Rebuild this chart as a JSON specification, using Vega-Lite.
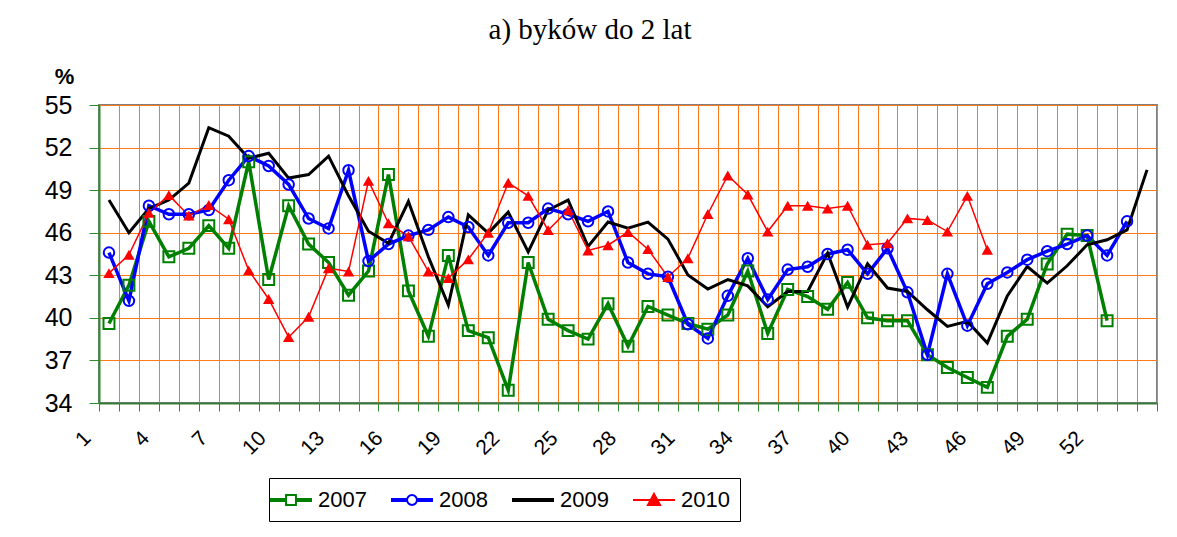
{
  "$schema": "https://vega.github.io/schema/vega-lite/v6.json",
  "width": 1058,
  "height": 298,
  "autosize": "none",
  "padding": {"left": 99, "top": 105, "right": 20, "bottom": 134},
  "background": "white",
  "title": {
    "text": "a) byków do 2 lat",
    "font": "Liberation Serif",
    "fontSize": 29,
    "fontWeight": "normal",
    "color": "black",
    "anchor": "middle",
    "dx": -38,
    "offset": 20
  },
  "config": {
    "view": {"stroke": "#808080", "strokeWidth": 2},
    "axis": {"labelFont": "Liberation Sans", "labelColor": "black", "titleFont": "Liberation Sans", "titleColor": "black"}
  },
  "resolve": {"axis": {"x": "independent"}},
  "data": {
    "values": [
      {"w":1,"year":"2007","v":39.6},{"w":2,"year":"2007","v":42.3},{"w":3,"year":"2007","v":46.8},{"w":4,"year":"2007","v":44.3},{"w":5,"year":"2007","v":44.9},{"w":6,"year":"2007","v":46.5},{"w":7,"year":"2007","v":44.9},{"w":8,"year":"2007","v":51.0},{"w":9,"year":"2007","v":42.7},{"w":10,"year":"2007","v":47.9},
      {"w":11,"year":"2007","v":45.2},{"w":12,"year":"2007","v":43.9},{"w":13,"year":"2007","v":41.6},{"w":14,"year":"2007","v":43.3},{"w":15,"year":"2007","v":50.1},{"w":16,"year":"2007","v":41.9},{"w":17,"year":"2007","v":38.7},{"w":18,"year":"2007","v":44.4},{"w":19,"year":"2007","v":39.1},{"w":20,"year":"2007","v":38.6},
      {"w":21,"year":"2007","v":34.9},{"w":22,"year":"2007","v":43.9},{"w":23,"year":"2007","v":39.9},{"w":24,"year":"2007","v":39.1},{"w":25,"year":"2007","v":38.5},{"w":26,"year":"2007","v":41.0},{"w":27,"year":"2007","v":38.0},{"w":28,"year":"2007","v":40.8},{"w":29,"year":"2007","v":40.2},{"w":30,"year":"2007","v":39.6},
      {"w":31,"year":"2007","v":39.2},{"w":32,"year":"2007","v":40.2},{"w":33,"year":"2007","v":43.3},{"w":34,"year":"2007","v":38.9},{"w":35,"year":"2007","v":42.0},{"w":36,"year":"2007","v":41.5},{"w":37,"year":"2007","v":40.6},{"w":38,"year":"2007","v":42.5},{"w":39,"year":"2007","v":40.0},{"w":40,"year":"2007","v":39.8},
      {"w":41,"year":"2007","v":39.8},{"w":42,"year":"2007","v":37.4},{"w":43,"year":"2007","v":36.5},{"w":44,"year":"2007","v":35.8},{"w":45,"year":"2007","v":35.1},{"w":46,"year":"2007","v":38.7},{"w":47,"year":"2007","v":39.9},{"w":48,"year":"2007","v":43.8},{"w":49,"year":"2007","v":45.9},{"w":50,"year":"2007","v":45.8},{"w":51,"year":"2007","v":39.8},
      {"w":1,"year":"2008","v":44.6},{"w":2,"year":"2008","v":41.2},{"w":3,"year":"2008","v":47.9},{"w":4,"year":"2008","v":47.3},{"w":5,"year":"2008","v":47.3},{"w":6,"year":"2008","v":47.6},{"w":7,"year":"2008","v":49.7},{"w":8,"year":"2008","v":51.4},{"w":9,"year":"2008","v":50.7},{"w":10,"year":"2008","v":49.4},
      {"w":11,"year":"2008","v":47.0},{"w":12,"year":"2008","v":46.3},{"w":13,"year":"2008","v":50.4},{"w":14,"year":"2008","v":44.0},{"w":15,"year":"2008","v":45.2},{"w":16,"year":"2008","v":45.8},{"w":17,"year":"2008","v":46.2},{"w":18,"year":"2008","v":47.1},{"w":19,"year":"2008","v":46.4},{"w":20,"year":"2008","v":44.4},
      {"w":21,"year":"2008","v":46.7},{"w":22,"year":"2008","v":46.7},{"w":23,"year":"2008","v":47.7},{"w":24,"year":"2008","v":47.3},{"w":25,"year":"2008","v":46.8},{"w":26,"year":"2008","v":47.5},{"w":27,"year":"2008","v":43.9},{"w":28,"year":"2008","v":43.1},{"w":29,"year":"2008","v":42.9},{"w":30,"year":"2008","v":39.55},
      {"w":31,"year":"2008","v":38.55},{"w":32,"year":"2008","v":41.55},{"w":33,"year":"2008","v":44.2},{"w":34,"year":"2008","v":41.3},{"w":35,"year":"2008","v":43.4},{"w":36,"year":"2008","v":43.6},{"w":37,"year":"2008","v":44.5},{"w":38,"year":"2008","v":44.8},{"w":39,"year":"2008","v":43.1},{"w":40,"year":"2008","v":44.9},
      {"w":41,"year":"2008","v":41.8},{"w":42,"year":"2008","v":37.4},{"w":43,"year":"2008","v":43.1},{"w":44,"year":"2008","v":39.45},{"w":45,"year":"2008","v":42.4},{"w":46,"year":"2008","v":43.2},{"w":47,"year":"2008","v":44.1},{"w":48,"year":"2008","v":44.7},{"w":49,"year":"2008","v":45.2},{"w":50,"year":"2008","v":45.8},{"w":51,"year":"2008","v":44.4},{"w":52,"year":"2008","v":46.8},
      {"w":1,"year":"2009","v":48.3},{"w":2,"year":"2009","v":46.0},{"w":3,"year":"2009","v":47.7},{"w":4,"year":"2009","v":48.3},{"w":5,"year":"2009","v":49.5},{"w":6,"year":"2009","v":53.4},{"w":7,"year":"2009","v":52.8},{"w":8,"year":"2009","v":51.25},{"w":9,"year":"2009","v":51.6},{"w":10,"year":"2009","v":49.85},
      {"w":11,"year":"2009","v":50.1},{"w":12,"year":"2009","v":51.4},{"w":13,"year":"2009","v":48.6},{"w":14,"year":"2009","v":46.1},{"w":15,"year":"2009","v":45.25},{"w":16,"year":"2009","v":48.2},{"w":17,"year":"2009","v":44.3},{"w":18,"year":"2009","v":40.9},{"w":19,"year":"2009","v":47.26},{"w":20,"year":"2009","v":45.97},
      {"w":21,"year":"2009","v":47.45},{"w":22,"year":"2009","v":44.65},{"w":23,"year":"2009","v":47.6},{"w":24,"year":"2009","v":48.3},{"w":25,"year":"2009","v":45.03},{"w":26,"year":"2009","v":46.75},{"w":27,"year":"2009","v":46.32},{"w":28,"year":"2009","v":46.75},{"w":29,"year":"2009","v":45.55},{"w":30,"year":"2009","v":43.03},
      {"w":31,"year":"2009","v":42.03},{"w":32,"year":"2009","v":42.7},{"w":33,"year":"2009","v":42.25},{"w":34,"year":"2009","v":40.78},{"w":35,"year":"2009","v":41.86},{"w":36,"year":"2009","v":41.86},{"w":37,"year":"2009","v":44.56},{"w":38,"year":"2009","v":40.76},{"w":39,"year":"2009","v":43.81},{"w":40,"year":"2009","v":42.1},
      {"w":41,"year":"2009","v":41.86},{"w":42,"year":"2009","v":40.57},{"w":43,"year":"2009","v":39.4},{"w":44,"year":"2009","v":39.75},{"w":45,"year":"2009","v":38.22},{"w":46,"year":"2009","v":41.55},{"w":47,"year":"2009","v":43.62},{"w":48,"year":"2009","v":42.45},{"w":49,"year":"2009","v":43.67},{"w":50,"year":"2009","v":45.15},{"w":51,"year":"2009","v":45.5},{"w":52,"year":"2009","v":46.2},{"w":53,"year":"2009","v":50.43},
      {"w":1,"year":"2010","v":43.15},{"w":2,"year":"2010","v":44.45},{"w":3,"year":"2010","v":47.4},{"w":4,"year":"2010","v":48.65},{"w":5,"year":"2010","v":47.2},{"w":6,"year":"2010","v":47.95},{"w":7,"year":"2010","v":46.95},{"w":8,"year":"2010","v":43.35},{"w":9,"year":"2010","v":41.33},{"w":10,"year":"2010","v":38.64},
      {"w":11,"year":"2010","v":40.08},{"w":12,"year":"2010","v":43.5},{"w":13,"year":"2010","v":43.27},{"w":14,"year":"2010","v":49.65},{"w":15,"year":"2010","v":46.67},{"w":16,"year":"2010","v":45.75},{"w":17,"year":"2010","v":43.27},{"w":18,"year":"2010","v":42.8},{"w":19,"year":"2010","v":44.12},{"w":20,"year":"2010","v":46.0},
      {"w":21,"year":"2010","v":49.52},{"w":22,"year":"2010","v":48.6},{"w":23,"year":"2010","v":46.18},{"w":24,"year":"2010","v":47.6},{"w":25,"year":"2010","v":44.75},{"w":26,"year":"2010","v":45.12},{"w":27,"year":"2010","v":46.05},{"w":28,"year":"2010","v":44.84},{"w":29,"year":"2010","v":42.88},{"w":30,"year":"2010","v":44.2},
      {"w":31,"year":"2010","v":47.32},{"w":32,"year":"2010","v":50.03},{"w":33,"year":"2010","v":48.69},{"w":34,"year":"2010","v":46.08},{"w":35,"year":"2010","v":47.9},{"w":36,"year":"2010","v":47.9},{"w":37,"year":"2010","v":47.7},{"w":38,"year":"2010","v":47.9},{"w":39,"year":"2010","v":45.15},{"w":40,"year":"2010","v":45.26},
      {"w":41,"year":"2010","v":47.01},{"w":42,"year":"2010","v":46.9},{"w":43,"year":"2010","v":46.08},{"w":44,"year":"2010","v":48.6},{"w":45,"year":"2010","v":44.8}
    ]
  },
  "encoding": {
    "x": {
      "field": "w", "type": "quantitative",
      "scale": {"domain": [0.5, 53.5], "nice": false, "zero": false},
      "axis": null
    },
    "y": {
      "field": "v", "type": "quantitative",
      "scale": {"domain": [34, 55], "nice": false, "zero": false},
      "axis": {
        "values": [34,37,40,43,46,49,52,55],
        "title": "%",
        "titleAngle": 0,
        "titleFontWeight": "bold",
        "titleFontSize": 22,
        "titleAlign": "center",
        "titleBaseline": "middle",
        "titleX": -35,
        "titleY": -29,
        "labelFontSize": 25,
        "labelPadding": 17,
        "grid": true, "gridColor": "#FF7A1A", "gridWidth": 1,
        "ticks": true, "tickColor": "#2E8B2E", "tickSize": 10, "tickWidth": 1,
        "domain": true, "domainColor": "#2E8B2E", "domainWidth": 2
      }
    }
  },
  "layer": [
    {
      "transform": [{"filter": "datum.year == '2007'"}],
      "mark": {"type": "line", "color": "#008000", "strokeWidth": 3.5, "strokeJoin": "miter"},
      "encoding": {
        "x": {
          "field": "w", "type": "quantitative",
          "scale": {"domain": [0.5, 53.5], "nice": false, "zero": false},
          "axis": {
            "orient": "bottom",
            "title": null,
            "values": [0.5,1.5,2.5,3.5,4.5,5.5,6.5,7.5,8.5,9.5,10.5,11.5,12.5,13.5,14.5,15.5,16.5,17.5,18.5,19.5,20.5,21.5,22.5,23.5,24.5,25.5,26.5,27.5,28.5,29.5,30.5,31.5,32.5,33.5,34.5,35.5,36.5,37.5,38.5,39.5,40.5,41.5,42.5,43.5,44.5,45.5,46.5,47.5,48.5,49.5,50.5,51.5,52.5,53.5],
            "labels": false,
            "grid": true, "gridColor": "#FF7A1A", "gridWidth": 1,
            "ticks": true, "tickColor": "#2E8B2E", "tickSize": 8, "tickWidth": 1,
            "domain": true, "domainColor": "#3A7A3A", "domainWidth": 2
          }
        }
      }
    },
    {
      "transform": [{"filter": "datum.year == '2008'"}],
      "mark": {"type": "line", "color": "#0000FF", "strokeWidth": 3.5, "strokeJoin": "miter"},
      "encoding": {
        "x": {
          "field": "w", "type": "quantitative",
          "scale": {"domain": [0.5, 53.5], "nice": false, "zero": false},
          "axis": {
            "orient": "bottom",
            "title": null,
            "values": [0.5,3.42485,6.3497,9.27455,12.1994,15.12425,18.0491,20.97395,23.8988,26.82365,29.7485,32.67335,35.5982,38.52305,41.4479,44.37275,47.2976,50.22245],
            "labelExpr": "'' + (round((datum.value - 0.5) / 0.97495) + 1)",
            "labelAngle": -45,
            "labelAlign": "right",
            "labelBaseline": "top",
            "labelOffset": -19.5,
            "labelPadding": 16,
            "labelFontSize": 21,
            "labelOverlap": false,
            "labelFlush": false,
            "grid": false,
            "ticks": true, "tickSize": 8, "tickOpacity": 0,
            "domain": false
          }
        }
      }
    },
    {
      "transform": [{"filter": "datum.year == '2009'"}],
      "mark": {"type": "line", "color": "#000000", "strokeWidth": 3, "strokeJoin": "miter"}
    },
    {
      "transform": [{"filter": "datum.year == '2010'"}],
      "mark": {"type": "line", "color": "#FF0000", "strokeWidth": 1.5}
    },
    {
      "transform": [{"filter": "datum.year == '2007'"}],
      "mark": {"type": "point", "shape": "square", "filled": false, "color": "#008000", "size": 120, "strokeWidth": 2, "opacity": 1}
    },
    {
      "transform": [{"filter": "datum.year == '2008'"}],
      "mark": {"type": "point", "shape": "circle", "filled": false, "color": "#0000FF", "size": 110, "strokeWidth": 2, "opacity": 1}
    },
    {
      "transform": [{"filter": "datum.year == '2010'"}],
      "mark": {"type": "point", "shape": "triangle-up", "filled": true, "color": "#FF0000", "size": 130, "opacity": 1}
    },
    {
      "mark": {"type": "point", "filled": false, "opacity": 0, "size": 484},
      "encoding": {
        "color": {"field": "year", "type": "nominal", "scale": {"domain": ["2007","2008","2009","2010"], "range": ["#008000","#0000FF","#000000","#FF0000"]},
          "legend": {
            "title": null, "orient": "none", "legendX": 170, "legendY": 373, "direction": "horizontal", "columns": 4,
            "labelFont": "Liberation Sans", "labelFontSize": 22, "labelColor": "black", "labelOffset": 15,
            "symbolSize": 484, "symbolStrokeWidth": 2,
            "columnPadding": 19, "padding": 10, "strokeColor": "black", "fillColor": "white",
            "symbolOpacity": 1
          }},
        "fill": {"field": "year", "type": "nominal", "scale": {"domain": ["2007","2008","2009","2010"], "range": ["transparent","transparent","transparent","#FF0000"]}},
        "shape": {"field": "year", "type": "nominal", "scale": {"domain": ["2007","2008","2009","2010"], "range": [
          "M-1.91,-0.08H-0.45M0.45,-0.08H1.91M-1.91,0.08H-0.45M0.45,0.08H1.91M-0.45,-0.45H0.45V0.45H-0.45Z",
          "M-1.91,-0.08H-0.45M0.45,-0.08H1.91M-1.91,0.08H-0.45M0.45,0.08H1.91M-0.45,0A0.45,0.45 0 1,0 0.45,0A0.45,0.45 0 1,0 -0.45,0Z",
          "M-1.91,-0.08H1.91M-1.91,0.08H1.91",
          "M-1.91,0H1.91M0,-0.55L0.55,0.45H-0.55Z"
        ]}}
      }
    }
  ]
}
